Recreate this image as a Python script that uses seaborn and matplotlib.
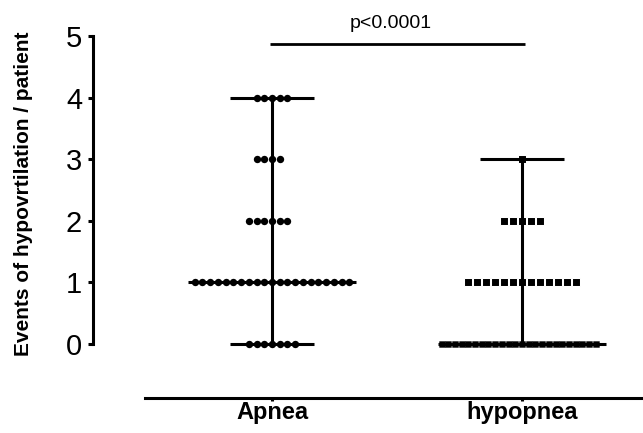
import matplotlib
matplotlib.use("Agg")
import matplotlib.pyplot as plt
import numpy as np
import pandas as pd
import seaborn as sns
import warnings

warnings.filterwarnings("ignore", category=UserWarning)

# Values
groups = ["Apnea", "hypopnea"]
levels = [0, 1, 2, 3, 4]
apnea_counts = [7, 21, 6, 4, 5]
hypopnea_counts = [24, 13, 5, 1, 0]
p_text = "p<0.0001"
y_label = "Events of hypovrtilation / patient"

apnea = np.repeat(levels, apnea_counts)
hypopnea = np.repeat(levels, hypopnea_counts)

df_apnea = pd.DataFrame({"group": "Apnea", "events": apnea})
df_hypo = pd.DataFrame({"group": "hypopnea", "events": hypopnea})
df_hypo_zero = df_hypo[df_hypo["events"] == 0]
df_hypo_rest = df_hypo[df_hypo["events"] > 0]

sns.set_style("ticks")
plt.rcParams["font.family"] = ["Liberation Sans", "DejaVu Sans"]
plt.rcParams.update({"axes.edgecolor": "black", "text.color": "black",
                     "xtick.color": "black", "ytick.color": "black",
                     "axes.labelcolor": "black"})

fig = plt.figure(figsize=(6.43, 4.33), dpi=100)
ax = fig.add_axes([93 / 643, 0, 550 / 643, 1])

sns.swarmplot(data=df_apnea, x="group", y="events", order=groups, ax=ax,
              color="black", marker="o", size=5.3, linewidth=0)
sns.swarmplot(data=df_hypo_rest, x="group", y="events", order=groups, ax=ax,
              color="black", marker="s", size=5.4, linewidth=0.76,
              edgecolor="white")
sns.swarmplot(data=df_hypo_zero, x="group", y="events", order=groups, ax=ax,
              color="black", marker="s", size=4.6, linewidth=0, snap=False)

# median with range
for i, vals in enumerate([apnea, hypopnea]):
    med, lo, hi = np.median(vals), vals.min(), vals.max()
    ax.vlines(i, lo, hi, color="black", lw=2.2, zorder=5)
    ax.hlines([lo, hi], i - 0.168, i + 0.168, color="black", lw=2.2, zorder=5)
    ax.hlines(med, i - 0.335, i + 0.335, color="black", lw=2.2, zorder=5)

# significance bar
ax.hlines(4.87, -0.01, 1.01, color="black", lw=2.0)
ax.text(0.475, 5.2, p_text, ha="center", va="center", fontsize=14)

ax.set_xlim(-0.716, 1.484)
ax.set_ylim(-1.445, 5.584)
ax.set_yticks(range(0, 6))
ax.set_xticks([0, 1], labels=["", ""])
ax.set_xlabel("")
ax.set_ylabel("")
ax.tick_params(axis="y", labelsize=21, length=3.6, width=2.2, pad=4.3)
ax.tick_params(axis="x", length=2.2, width=2.2)

# bold group names under the offset x axis
for i, name in enumerate(groups):
    ax.text(i, -1.11, name, ha="center", va="center", fontsize=17,
            fontweight="bold")

ax.spines["top"].set_visible(False)
ax.spines["right"].set_visible(False)
ax.spines["left"].set_linewidth(2.2)
ax.spines["left"].set_bounds(0, 5)
ax.spines["bottom"].set_linewidth(2.2)
ax.spines["bottom"].set_position(("data", -0.877))
ax.spines["bottom"].set_bounds(-0.508, 1.484)

fig.text(24 / 643, 1 - 193.5 / 433, y_label, rotation=90, ha="center",
         va="center", fontsize=15, fontweight="bold")

fig.savefig("out.png", dpi=100)
